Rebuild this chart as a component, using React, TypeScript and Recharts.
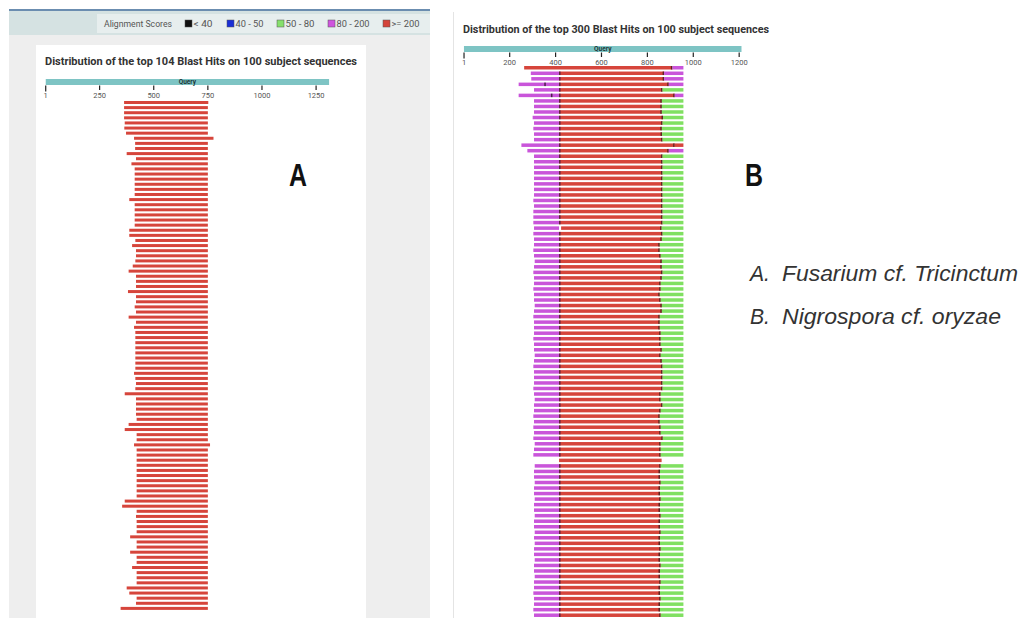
import React from 'react';
import { BarChart, Bar, XAxis, YAxis, Cell, LabelList } from 'recharts';

// ---------- legend ----------
const legendTitle = 'Alignment Scores';
const legendLabels = ['< 40', '40 - 50', '50 - 80', '80 - 200', '>= 200'];
const legendColors = ['#111111', '#1a2fd6', '#86e06c', '#cf55de', '#d4443a'];

// ---------- panel A ----------
const titleA = 'Distribution of the top 104 Blast Hits on 100 subject sequences';
const queryLenA = 1311;
const ticksA = [1, 250, 500, 750, 1000, 1250];
const aStart = [
  363, 363, 363, 363, 366, 364, 372, 409, 414, 414, 375, 418, 397, 412, 412, 412, 412, 412, 412, 387,
  412, 412, 412, 412, 412, 387, 387, 415, 400, 418, 418, 415, 403, 384, 418, 418, 418, 381, 418, 418,
  412, 418, 384, 418, 409, 415, 415, 415, 415, 415, 415, 415, 415, 409, 415, 418, 415, 366, 418, 418,
  418, 418, 421, 384, 366, 421, 421, 409, 421, 421, 421, 421, 421, 421, 421, 421, 421, 421, 366, 354,
  421, 418, 421, 421, 421, 391, 421, 421, 391, 421, 421, 400, 421, 421, 421, 375, 387, 421, 418, 347,
];
const aEnd = [
  752, 750, 750, 750, 750, 750, 750, 776, 750, 750, 750, 750, 750, 750, 750, 750, 750, 750, 750, 750,
  750, 750, 750, 750, 750, 750, 750, 750, 750, 750, 750, 750, 750, 750, 750, 750, 750, 750, 750, 750,
  750, 750, 750, 750, 750, 750, 750, 750, 750, 750, 750, 750, 750, 750, 750, 750, 750, 750, 750, 750,
  750, 750, 750, 750, 750, 750, 750, 760, 750, 750, 750, 750, 750, 750, 750, 750, 750, 750, 750, 750,
  750, 750, 750, 750, 750, 750, 750, 750, 750, 750, 750, 750, 750, 750, 750, 750, 750, 750, 750, 750,
];

// ---------- panel B ----------
const titleB = 'Distribution of the top 300 Blast Hits on 100 subject sequences';
const queryLenB = 1211;
const ticksB = [1, 200, 400, 600, 800, 1000, 1200];
const bStart = [
  263, 292, 294, 239, 306, 239, 306, 306, 306, 300, 306, 303, 306, 306, 251, 277, 306, 306, 306, 306,
  306, 306, 306, 306, 303, 306, 303, 303, 303, 306, 303, 306, 306, 303, 306, 309, 306, 303, 306, 306,
  303, 306, 306, 309, 306, 303, 306, 306, 306, 303, 306, 306, 309, 306, 303, 306, 306, 306, 303, 306,
  309, 306, 306, 303, 306, 303, 306, 303, 309, 306, 303, 415, 309, 306, 306, 309, 306, 306, 309, 306,
  306, 309, 306, 306, 309, 306, 309, 306, 306, 309, 306, 306, 309, 306, 306, 303, 306, 306, 303, 306,
];
const bMagEnd = [
  263, 415, 415, 415, 415, 415, 415, 415, 415, 415, 415, 415, 415, 415, 415, 415, 415, 415, 415, 415,
  415, 415, 415, 415, 415, 415, 415, 415, 415, 415, 415, 415, 415, 415, 415, 415, 415, 415, 415, 415,
  415, 415, 415, 415, 415, 415, 415, 415, 415, 415, 415, 415, 415, 415, 415, 415, 415, 415, 415, 415,
  415, 415, 415, 415, 415, 415, 415, 415, 415, 415, 415, 415, 415, 415, 415, 415, 415, 415, 415, 415,
  415, 415, 415, 415, 415, 415, 415, 415, 415, 415, 415, 415, 415, 415, 415, 415, 415, 415, 415, 415,
];
const bRedStart = [
  263, 415, 415, 415, 415, 415, 415, 415, 415, 415, 415, 415, 415, 415, 415, 415, 415, 415, 415, 415,
  415, 415, 415, 415, 415, 415, 415, 415, 415, 424, 415, 415, 415, 415, 415, 415, 415, 415, 415, 415,
  415, 415, 415, 415, 415, 415, 415, 415, 415, 415, 415, 415, 415, 415, 415, 415, 415, 415, 415, 415,
  415, 415, 415, 415, 415, 415, 415, 415, 415, 415, 415, 415, 415, 415, 415, 415, 415, 415, 415, 415,
  415, 415, 415, 415, 415, 415, 415, 415, 415, 415, 415, 415, 415, 415, 415, 415, 415, 415, 415, 415,
];
const bRedEnd = [
  909, 873, 873, 893, 866, 919, 863, 863, 863, 868, 866, 863, 864, 866, 919, 893, 866, 866, 866, 866,
  866, 866, 866, 866, 866, 866, 866, 866, 866, 862, 866, 863, 854, 854, 858, 863, 863, 866, 863, 858,
  858, 854, 858, 863, 863, 854, 854, 854, 858, 858, 858, 863, 858, 863, 866, 866, 866, 866, 866, 858,
  858, 866, 858, 854, 854, 858, 858, 867, 858, 858, 858, 862, 858, 855, 855, 858, 855, 855, 858, 855,
  855, 858, 855, 855, 858, 855, 855, 858, 855, 855, 858, 855, 855, 858, 855, 855, 858, 855, 855, 858,
];
const bEnd = [
  957, 957, 957, 957, 957, 957, 957, 957, 957, 957, 957, 957, 957, 957, 957, 957, 957, 957, 957, 957,
  957, 957, 957, 957, 957, 957, 957, 957, 957, 957, 957, 957, 957, 957, 957, 957, 957, 957, 957, 957,
  957, 957, 957, 957, 957, 957, 957, 957, 957, 957, 957, 957, 957, 957, 957, 957, 957, 957, 957, 957,
  957, 957, 957, 957, 957, 957, 957, 957, 957, 957, 957, 862, 957, 957, 957, 957, 957, 957, 957, 957,
  957, 957, 957, 957, 957, 957, 957, 957, 957, 957, 957, 957, 957, 957, 957, 957, 957, 957, 957, 957,
];
// tail score class: m = 80-200, g = 50-80, r = >=200
const bTail = [
  'm', 'm', 'm', 'm', 'g', 'm', 'g', 'g', 'g', 'g', 'g', 'g', 'g', 'g', 'r', 'm', 'g', 'g', 'g', 'g',
  'g', 'g', 'g', 'g', 'g', 'g', 'g', 'g', 'g', 'g', 'g', 'g', 'g', 'g', 'g', 'g', 'g', 'g', 'g', 'g',
  'g', 'g', 'g', 'g', 'g', 'g', 'g', 'g', 'g', 'g', 'g', 'g', 'g', 'g', 'g', 'g', 'g', 'g', 'g', 'g',
  'g', 'g', 'g', 'g', 'g', 'g', 'g', 'g', 'g', 'g', 'g', '', 'g', 'g', 'g', 'g', 'g', 'g', 'g', 'g',
  'g', 'g', 'g', 'g', 'g', 'g', 'g', 'g', 'g', 'g', 'g', 'g', 'g', 'g', 'g', 'g', 'g', 'g', 'g', 'g',
];
const bJoinRows = [3, 5];
const bJoinPos = [354, 383];

// ---------- side labels ----------
const panelLabels = ['A', 'B'];
const speciesPrefix = ['A.', 'B.'];
const speciesNames = ['Fusarium cf. Tricinctum', 'Nigrospora cf. oryzae'];

// ---------- derived tables ----------
const COL_RED = '#d6453b';
const COL_MAG = '#c955da';
const COL_GRN = '#80e061';
const tailColor: Record<string, string> = { m: COL_MAG, g: COL_GRN, r: COL_RED, '': 'transparent' };

const queryRowA = [{ name: 'Query', len: queryLenA }];
const queryRowB = [{ name: 'Query', len: queryLenB }];
const rowsA = aStart.map((s, i) => ({ id: i, off: s, red: aEnd[i] - s }));
const rowsB = bStart.map((s, i) => {
  const k = bJoinRows.indexOf(i);
  return {
    id: i,
    off: s,
    mag: bMagEnd[i] - s,
    gap: bRedStart[i] - bMagEnd[i],
    red: bRedEnd[i] - bRedStart[i],
    tail: bEnd[i] - bRedEnd[i],
    tailType: bTail[i],
    join: k >= 0 ? bJoinPos[k] : 0,
  };
});

const AxisTick = (props: any) => {
  const { x, y, payload } = props;
  const first = payload.value === 1;
  return (
    <g>
      <line x1={x} x2={x} y1={y + 0.5} y2={y + (first ? 6.5 : 5)} stroke="#222" strokeWidth={1.2} />
      <text
        x={x}
        y={y + 12.5}
        textAnchor="middle"
        fontSize={7.5}
        fontFamily="Roboto, sans-serif"
        style={{ fill: '#555555' }}
      >
        {payload.value}
      </text>
    </g>
  );
};

const RedShape = (props: any) => {
  const { x, y, width, height, payload, fill } = props;
  if (!width || width <= 0) return null;
  return (
    <g>
      <rect x={x} y={y} width={width} height={height} fill={fill} />
      {payload.mag > 0 && payload.gap === 0 && (
        <rect x={x} y={y} width={1.5} height={height} fill="#5b2240" />
      )}
      {payload.tail > 0 && <rect x={x + width - 1.5} y={y} width={1.5} height={height} fill="#5b2222" />}
    </g>
  );
};

const MagShape = (props: any) => {
  const { x, y, width, height, payload, fill } = props;
  if (!width || width <= 0) return null;
  const jx = payload.join > 0 ? x + (width * (payload.join - payload.off)) / payload.mag : null;
  return (
    <g>
      <rect x={x} y={y} width={width} height={height} fill={fill} />
      {jx !== null && <rect x={jx - 0.75} y={y} width={1.5} height={height} fill="#4a1f4a" />}
    </g>
  );
};

const PlainShape = (props: any) => {
  const { x, y, width, height, fill } = props;
  if (!width || width <= 0 || fill === 'transparent') return null;
  return <rect x={x} y={y} width={width} height={height} fill={fill} />;
};

const QueryChart = ({ data, len, ticks, left, top, width, ml, mr }: any) => (
  <div style={{ position: 'absolute', left, top }}>
    <BarChart
      width={width}
      height={26}
      data={data}
      layout="vertical"
      margin={{ top: 0, right: mr, bottom: 0, left: ml }}
      barCategoryGap={0}
    >
      <XAxis
        type="number"
        domain={[0, len]}
        allowDataOverflow
        ticks={ticks}
        interval={0}
        tick={<AxisTick />}
        axisLine={false}
        tickLine={false}
        tickSize={0}
        tickMargin={0}
        height={20}
      />
      <YAxis type="category" dataKey="name" hide />
      <Bar dataKey="len" fill="#7ec4c4" isAnimationActive={false}>
        <LabelList dataKey="name" position="center" fill="#1c3838" fontSize={6.5} fontWeight="bold" fontFamily="Roboto, sans-serif" />
      </Bar>
    </BarChart>
  </div>
);

export default function App() {
  const legendSwatchX = [185, 227, 277, 328, 383];
  const legendTextW = [19, 28, 29, 33, 28];
  const speciesFont = "'Liberation Sans', Arial, sans-serif";
  return (
    <div
      style={{
        position: 'absolute',
        left: 0,
        top: 0,
        width: 1026,
        height: 618,
        background: '#ffffff',
        overflow: 'hidden',
        fontFamily: 'Roboto, sans-serif',
      }}
    >
      <svg width={1026} height={618} style={{ position: 'absolute', left: 0, top: 0 }}>
        {/* left page frame */}
        <rect x={9} y={10} width={421} height={608} fill="#eeeeee" />
        <rect x={9} y={9} width={421} height={2} fill="#6b8db0" />
        <rect x={9} y={11} width={421} height={24} fill="#d5e2e2" />
        <rect x={97} y={14} width={333} height={19} fill="#e7eeee" />
        <rect x={36} y={45} width={330} height={573} fill="#ffffff" />
        <line x1={453.5} x2={453.5} y1={12} y2={618} stroke="#e4e4e4" strokeWidth={1} />

        {/* legend */}
        <text x={104} y={27} fontSize={8.5} fill="#555" textLength={68} lengthAdjust="spacingAndGlyphs">
          {legendTitle}
        </text>
        {legendLabels.map((lab, i) => (
          <g key={lab}>
            <rect x={legendSwatchX[i]} y={20} width={7} height={7} fill={legendColors[i]} stroke="#555" strokeWidth={0.5} />
            <text
              x={legendSwatchX[i] + 8.5}
              y={27}
              fontSize={8.5}
              fill="#555"
              textLength={legendTextW[i]}
              lengthAdjust="spacingAndGlyphs"
            >
              {lab}
            </text>
          </g>
        ))}

        {/* titles */}
        <text x={45} y={64.5} fontSize={10.5} fontWeight="bold" fill="#333" textLength={312} lengthAdjust="spacingAndGlyphs">
          {titleA}
        </text>
        <text x={463} y={32.5} fontSize={10.5} fontWeight="bold" fill="#333" textLength={306} lengthAdjust="spacingAndGlyphs">
          {titleB}
        </text>

        {/* panel letters */}
        <text x={289} y={186} fontSize={31} fontWeight="bold" fill="#111" fontFamily={speciesFont} textLength={18} lengthAdjust="spacingAndGlyphs">
          {panelLabels[0]}
        </text>
        <text x={745} y={186} fontSize={31} fontWeight="bold" fill="#111" fontFamily={speciesFont} textLength={18} lengthAdjust="spacingAndGlyphs">
          {panelLabels[1]}
        </text>

        {/* species */}
        <text x={750} y={281} fontSize={22.5} fontStyle="italic" fill="#333" fontFamily={speciesFont} textLength={20} lengthAdjust="spacingAndGlyphs">
          {speciesPrefix[0]}
        </text>
        <text x={782} y={281} fontSize={22.5} fontStyle="italic" fill="#333" fontFamily={speciesFont} textLength={236} lengthAdjust="spacingAndGlyphs">
          {speciesNames[0]}
        </text>
        <text x={750} y={323.5} fontSize={22.5} fontStyle="italic" fill="#333" fontFamily={speciesFont} textLength={20} lengthAdjust="spacingAndGlyphs">
          {speciesPrefix[1]}
        </text>
        <text x={782} y={323.5} fontSize={22.5} fontStyle="italic" fill="#333" fontFamily={speciesFont} textLength={219} lengthAdjust="spacingAndGlyphs">
          {speciesNames[1]}
        </text>
      </svg>

      {/* Panel A */}
      <QueryChart data={queryRowA} len={queryLenA} ticks={ticksA} left={35} top={79} width={305} ml={10.5} mr={10.7} />
      <div style={{ position: 'absolute', left: 35, top: 100 }}>
        <BarChart width={305} height={511} data={rowsA} layout="vertical" margin={{ top: 0, right: 10.7, bottom: 0, left: 10.5 }}>
          <XAxis type="number" domain={[0, queryLenA]} allowDataOverflow hide />
          <YAxis type="category" dataKey="id" hide />
          <Bar dataKey="off" stackId="a" fill="transparent" barSize={3} isAnimationActive={false} shape={PlainShape} />
          <Bar dataKey="red" stackId="a" fill={COL_RED} barSize={3} isAnimationActive={false} shape={PlainShape} />
        </BarChart>
      </div>

      {/* Panel B */}
      <QueryChart data={queryRowB} len={queryLenB} ticks={ticksB} left={453} top={46} width={300} ml={10.8} mr={11.3} />
      <div style={{ position: 'absolute', left: 453, top: 64.5 }}>
        <BarChart width={300} height={553} data={rowsB} layout="vertical" margin={{ top: 0, right: 11.3, bottom: 0, left: 10.8 }}>
          <XAxis type="number" domain={[0, queryLenB]} allowDataOverflow hide />
          <YAxis type="category" dataKey="id" hide />
          <Bar dataKey="off" stackId="b" fill="transparent" barSize={3.5} isAnimationActive={false} shape={PlainShape} />
          <Bar dataKey="mag" stackId="b" fill={COL_MAG} barSize={3.5} isAnimationActive={false} shape={MagShape} />
          <Bar dataKey="gap" stackId="b" fill="transparent" barSize={3.5} isAnimationActive={false} shape={PlainShape} />
          <Bar dataKey="red" stackId="b" fill={COL_RED} barSize={3.5} isAnimationActive={false} shape={RedShape} />
          <Bar dataKey="tail" stackId="b" barSize={3.5} isAnimationActive={false} shape={PlainShape}>
            {rowsB.map((r) => (
              <Cell key={r.id} fill={tailColor[r.tailType]} />
            ))}
          </Bar>
        </BarChart>
      </div>
    </div>
  );
}
